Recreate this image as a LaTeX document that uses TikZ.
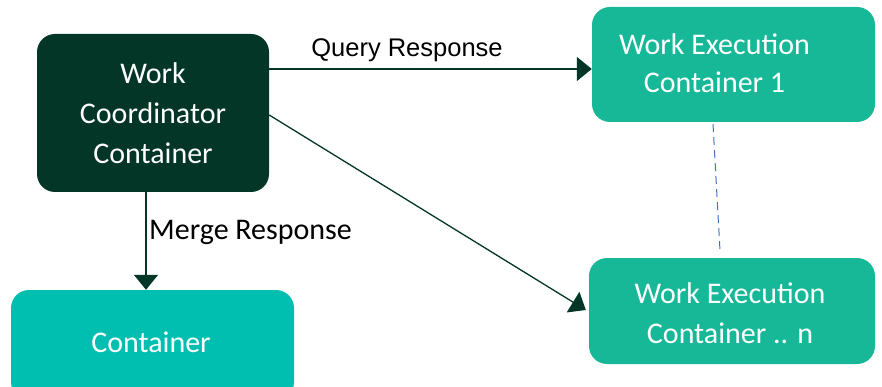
\documentclass[tikz,border=0pt]{standalone}
\usepackage{fontspec}
\setmainfont{Carlito}
\newfontfamily\arialf{Liberation Sans}
\usetikzlibrary{arrows.meta}
\definecolor{darkg}{HTML}{033626}
\definecolor{execg}{HTML}{17B897}
\definecolor{contg}{HTML}{00BFB1}
\definecolor{dashb}{HTML}{4472C4}
\begin{document}
\begin{tikzpicture}[x=1pt,y=-1pt,
  box/.style={rounded corners=18pt, inner sep=0pt, text=white, align=center,
    font=\fontsize{30}{40}\selectfont},
  conn/.style={draw=darkg, line width=1.3pt, -{Triangle[length=15pt,width=24pt]}},
  lbl/.style={inner sep=0pt}]
\useasboundingbox (0,0) rectangle (882,387);
\clip (0,0) rectangle (882,387);
\node[box, fill=darkg, minimum width=232pt, minimum height=158pt] (coord) at (153,113)
  {Work\\Coordinator\\Container};
\node[box, fill=execg, minimum width=283pt, minimum height=115pt,
  label={[font=\fontsize{30}{38}\selectfont, text=white, align=center, xshift=-19pt, yshift=1.5pt]center:{Work Execution\\Container 1}}] (exec1) at (733.5,64.5) {};
\node[box, fill=execg, minimum width=286pt, minimum height=106pt,
  label={[font=\fontsize{30}{40}\selectfont, text=white, align=center, xshift=-2pt, yshift=-2pt]center:{Work Execution\\Container .. n}}] (execn) at (732,311) {};
\node[box, fill=contg, minimum width=283pt, minimum height=110pt,
  label={[font=\fontsize{30}{40}\selectfont, text=white, xshift=-1.5pt, yshift=3pt]center:{Container}}] (cont) at (152.5,345) {};
\draw[conn] ([yshift=44pt]coord.east) -- ([yshift=-4.5pt]exec1.west);
\draw[conn] ([yshift=-2pt]coord.east) -- ([xshift=-3pt,yshift=1pt]execn.west);
\draw[conn] ([xshift=-7pt]coord.south) -- ([xshift=-6.5pt]cont.north);
\draw[dashb, line width=1pt, dash pattern=on 8pt off 5pt]
  ([xshift=-20.5pt,yshift=-2pt]exec1.south) -- ([xshift=-12pt,yshift=7pt]execn.north);
\node[lbl, font=\arialf\fontsize{25.5}{28}\selectfont] (qr) at (407,50) {Query Response};
\node[lbl, anchor=west, font=\fontsize{30}{36}\selectfont] (mr) at (149,232) {Merge Response};
\end{tikzpicture}
\end{document}
